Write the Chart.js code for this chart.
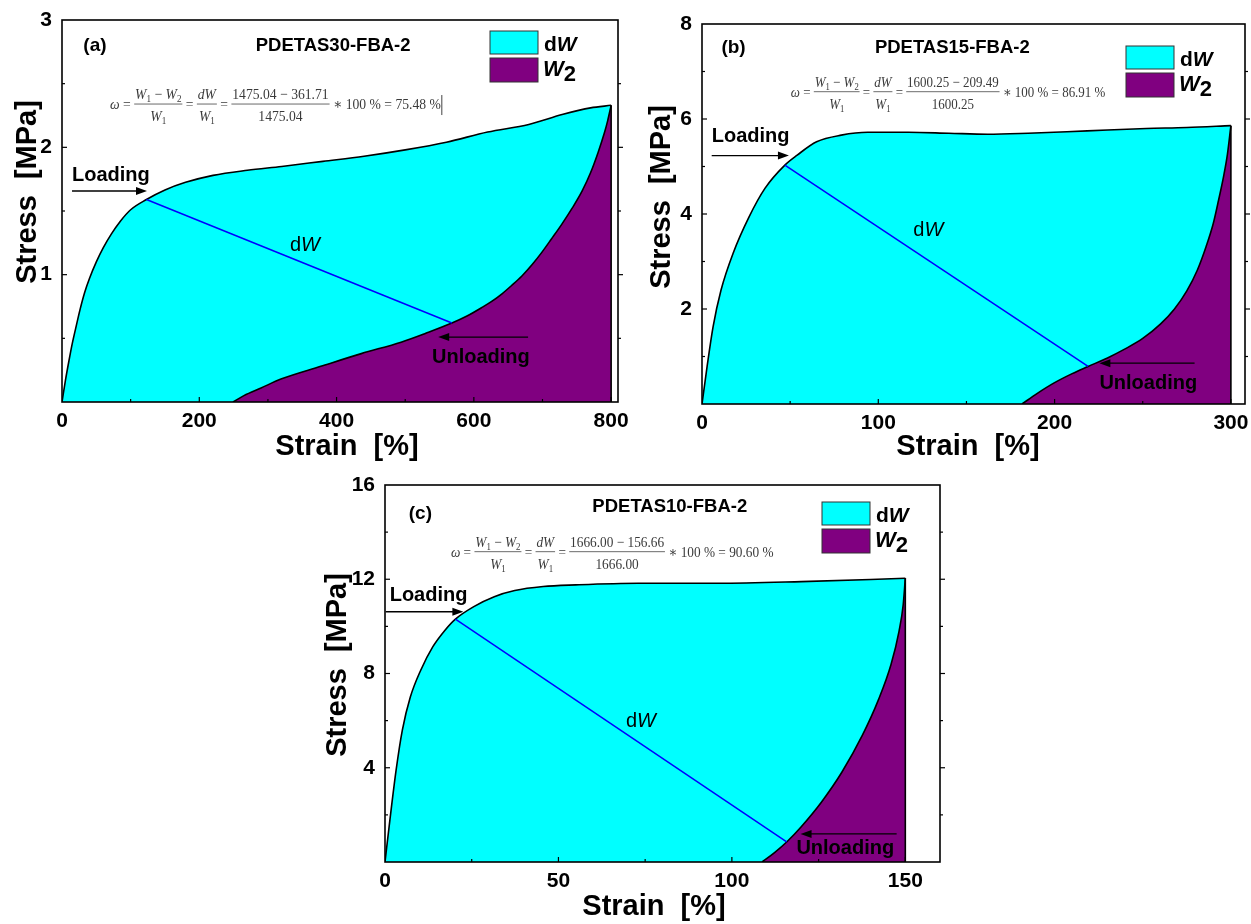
<!DOCTYPE html>
<html>
<head>
<meta charset="utf-8">
<script src="https://cdn.jsdelivr.net/npm/chart.js@4.4.0/dist/chart.umd.min.js"></script>
<style>
  body { margin: 0; background: #fff; width: 1251px; height: 924px; position: relative; overflow: hidden; }
  .panel { position: absolute; }
</style>
</head>
<body>
<div class="panel" style="left:0;top:0"><canvas id="chartA" width="640" height="465"></canvas></div>
<div class="panel" style="left:640px;top:0"><canvas id="chartB" width="611" height="465"></canvas></div>
<div class="panel" style="left:300px;top:465px"><canvas id="chartC" width="660" height="459"></canvas></div>
<script>
// ---- data ----
// (a) PDETAS30-FBA-2
const strainLoadA = [0, 5, 10, 15, 20, 26, 33, 40, 50, 60, 72, 85, 100, 123, 150, 180, 220, 270, 320, 380, 440, 500, 560, 620, 680, 730, 770, 800];
const stressLoadA = [0, 0.17, 0.32, 0.46, 0.58, 0.72, 0.86, 0.97, 1.10, 1.21, 1.32, 1.42, 1.51, 1.59, 1.665, 1.725, 1.78, 1.82, 1.85, 1.89, 1.93, 1.98, 2.04, 2.12, 2.18, 2.26, 2.31, 2.33];
const strainUnloadA = [800, 795, 790, 781, 770, 758, 743, 728, 713, 699, 685, 670, 655, 641, 626, 611, 590, 568, 530, 494, 436, 377, 319, 290, 265, 249];
const stressUnloadA = [2.33, 2.21, 2.11, 1.96, 1.80, 1.66, 1.52, 1.395, 1.28, 1.175, 1.08, 0.99, 0.915, 0.85, 0.79, 0.74, 0.675, 0.62, 0.54, 0.47, 0.38, 0.28, 0.18, 0.11, 0.05, 0];
const linkStrainA = [123, 568];
const linkStressA = [1.59, 0.62];
const xTicksA = [0, 200, 400, 600, 800];
const yTicksA = [1, 2, 3];

// (b) PDETAS15-FBA-2
const strainLoadB = [0, 2.9, 6.3, 10.8, 17.6, 26.7, 35.7, 47, 54, 65, 79, 94, 117, 140, 162, 185, 207, 230, 252, 275, 300];
const stressLoadB = [0, 0.79, 1.63, 2.40, 3.17, 3.94, 4.54, 5.03, 5.24, 5.52, 5.66, 5.72, 5.72, 5.70, 5.68, 5.70, 5.73, 5.77, 5.80, 5.82, 5.86];
const strainUnloadB = [300, 298, 296, 293, 290, 286, 281, 275, 268, 260, 250, 240, 230, 219, 210, 200, 190, 181.5];
const stressUnloadB = [5.86, 5.25, 4.82, 4.29, 3.80, 3.32, 2.82, 2.38, 2.00, 1.68, 1.38, 1.16, 0.97, 0.79, 0.64, 0.45, 0.22, 0];
const linkStrainB = [47, 219];
const linkStressB = [5.03, 0.79];
const xTicksB = [0, 100, 200, 300];
const yTicksB = [2, 4, 6, 8];

// (c) PDETAS10-FBA-2
const strainLoadC = [0, 1.4, 3.2, 5, 7.3, 10.3, 13.8, 17.3, 20.3, 25.6, 31.5, 37.4, 45.6, 55, 73, 96, 120, 150];
const stressLoadC = [0, 1.77, 3.9, 5.6, 7.0, 8.14, 9.14, 9.84, 10.31, 10.84, 11.26, 11.52, 11.69, 11.76, 11.83, 11.83, 11.9, 12.04];
const strainUnloadC = [150, 149.4, 148.2, 145.9, 142.3, 137.6, 131.7, 125.8, 120, 115.8, 112.3, 108.7];
const stressUnloadC = [12.04, 10.93, 9.80, 8.39, 6.90, 5.37, 3.81, 2.54, 1.50, 0.85, 0.40, 0];
const linkStrainC = [20.3, 115.8];
const linkStressC = [10.31, 0.85];
const xTicksC = [0, 50, 100, 150];
const yTicksC = [4, 8, 12, 16];

// energies for the damage formula
const sampleNames = ['PDETAS30-FBA-2', 'PDETAS15-FBA-2', 'PDETAS10-FBA-2'];
const energyW1 = [1475.04, 1600.25, 1666.00];
const energyW2 = [361.71, 209.49, 156.66];
const damagePct = [75.48, 86.91, 90.60];

// ---- drawing ----
const CYAN = '#00ffff', PURPLE = '#800080', BLUE = '#0000ff';
const SANS = '"Liberation Sans", Arial, sans-serif';
const SERIF = '"Liberation Serif", "DejaVu Serif", serif';

function pts(xs, ys) { return xs.map((x, i) => ({ x: x, y: ys[i] })); }

function line(ctx, x0, y0, x1, y1) {
  ctx.beginPath(); ctx.moveTo(x0, y0); ctx.lineTo(x1, y1); ctx.stroke();
}

// segments are [text, font, dy]
function runWidth(ctx, segs) {
  let w = 0;
  segs.forEach(s => { ctx.font = s[1]; w += ctx.measureText(s[0]).width; });
  return w;
}
function drawRun(ctx, segs, x, y) {
  segs.forEach(s => {
    ctx.font = s[1];
    ctx.fillText(s[0], x, y + (s[2] || 0));
    x += ctx.measureText(s[0]).width;
  });
  return x;
}

function drawFormula(ctx, x0, x1, cy, k, cursor) {
  const fs = 15;
  const up = fs + 'px ' + SERIF, it = 'italic ' + up, sb = '10px ' + SERIF;
  const w1 = energyW1[k].toFixed(2), w2 = energyW2[k].toFixed(2);
  const items = [
    { run: [['\u03c9', it], [' = ', up]] },
    { num: [['W', it], ['1', sb, 3], [' \u2212 ', up], ['W', it], ['2', sb, 3]], den: [['W', it], ['1', sb, 3]] },
    { run: [[' = ', up]] },
    { num: [['dW', it]], den: [['W', it], ['1', sb, 3]] },
    { run: [[' = ', up]] },
    { num: [[w1 + ' \u2212 ' + w2, up]], den: [[w1, up]] },
    { run: [[' \u2217 100 % = ' + damagePct[k].toFixed(2) + ' %', up]] }
  ];
  ctx.save();
  let total = 0;
  items.forEach(o => {
    o.w = o.run ? runWidth(ctx, o.run) : Math.max(runWidth(ctx, o.num), runWidth(ctx, o.den)) + 2;
    total += o.w;
  });
  ctx.translate(x0, cy);
  ctx.scale((x1 - x0) / total, 1);
  ctx.fillStyle = '#3a3a3a';
  ctx.strokeStyle = '#3a3a3a';
  ctx.lineWidth = 0.8;
  ctx.textBaseline = 'alphabetic';
  ctx.textAlign = 'left';
  let x = 0;
  items.forEach(o => {
    if (o.run) {
      drawRun(ctx, o.run, x, 5);
    } else {
      const nw = runWidth(ctx, o.num), dw = runWidth(ctx, o.den);
      drawRun(ctx, o.num, x + (o.w - nw) / 2, -5);
      drawRun(ctx, o.den, x + (o.w - dw) / 2, 17);
      line(ctx, x, 0, x + o.w, 0);
    }
    x += o.w;
  });
  if (cursor) { ctx.lineWidth = 1; line(ctx, total + 1, -9, total + 1, 11); }
  ctx.restore();
}

function arrow(ctx, x0, x1, y) {
  ctx.save();
  ctx.strokeStyle = '#000'; ctx.fillStyle = '#000'; ctx.lineWidth = 1.3;
  const dir = x1 > x0 ? 1 : -1;
  line(ctx, x0, y, x1 - dir * 8, y);
  ctx.beginPath();
  ctx.moveTo(x1, y); ctx.lineTo(x1 - dir * 11, y - 4); ctx.lineTo(x1 - dir * 11, y + 4);
  ctx.closePath(); ctx.fill();
  ctx.restore();
}

function makePanel(id, p) {
  const decor = {
    id: 'decor',
    afterDatasetsDraw(chart) {
      const ctx = chart.ctx, a = chart.chartArea;
      const X = v => chart.scales.x.getPixelForValue(v);
      const Y = v => chart.scales.y.getPixelForValue(v);
      ctx.save();
      // frame and ticks
      ctx.strokeStyle = '#000'; ctx.lineWidth = 1.6;
      ctx.strokeRect(a.left, a.top, a.right - a.left, a.bottom - a.top);
      ctx.lineWidth = 1.2;
      for (let v = p.xMinor; v < p.xMax; v += p.xMinor) {
        const len = Math.abs(v / p.xMajor - Math.round(v / p.xMajor)) < 1e-6 ? 5 : 3;
        line(ctx, X(v), a.bottom, X(v), a.bottom - len);
      }
      for (let v = p.yMinor; v < p.yMax; v += p.yMinor) {
        const len = Math.abs(v / p.yMajor - Math.round(v / p.yMajor)) < 1e-6 ? 5 : 3;
        line(ctx, a.left, Y(v), a.left + len, Y(v));
        line(ctx, a.right, Y(v), a.right + len, Y(v));
      }
      ctx.fillStyle = '#000';
      ctx.textBaseline = 'middle';
      // panel tag and sample name
      ctx.textAlign = 'center';
      ctx.font = 'bold 19px ' + SANS;
      ctx.fillText(p.tag, X(p.tagAt[0]), Y(p.tagAt[1]));
      ctx.font = 'bold 18.5px ' + SANS;
      ctx.fillText(sampleNames[p.k], X(p.titleAt[0]), Y(p.titleAt[1]));
      // dW along the link line
      ctx.textAlign = 'left';
      ctx.font = '20px ' + SANS; const wd = ctx.measureText('d').width;
      ctx.font = 'italic 20px ' + SANS; const ww = ctx.measureText('W').width;
      const dwx = X(p.dwAt[0]) - (wd + ww) / 2, dwy = Y(p.dwAt[1]);
      drawRun(ctx, [['d', '20px ' + SANS], ['W', 'italic 20px ' + SANS]], dwx, dwy);
      // loading / unloading
      ctx.font = 'bold 20px ' + SANS;
      ctx.fillText('Loading', X(p.loadText[0]), Y(p.loadText[1]));
      ctx.fillText('Unloading', X(p.unloadText[0]), Y(p.unloadText[1]));
      arrow(ctx, X(p.loadArrow[0]), X(p.loadArrow[1]), Y(p.loadArrow[2]));
      arrow(ctx, X(p.unloadArrow[0]), X(p.unloadArrow[1]), Y(p.unloadArrow[2]));
      // formula
      drawFormula(ctx, X(p.formula[0]), X(p.formula[1]), Y(p.formula[2]), p.k, p.cursor);
      // legend
      const bx = a.right - p.legend[0], by = a.top + p.legend[1];
      ctx.lineWidth = 1; ctx.strokeStyle = '#333';
      ctx.fillStyle = CYAN; ctx.fillRect(bx, by, 48, 23); ctx.strokeRect(bx, by, 48, 23);
      ctx.fillStyle = PURPLE; ctx.fillRect(bx, by + 27, 48, 24); ctx.strokeRect(bx, by + 27, 48, 24);
      ctx.fillStyle = '#000'; ctx.textBaseline = 'alphabetic'; ctx.textAlign = 'left';
      drawRun(ctx, [['d', 'bold 21px ' + SANS], ['W', 'italic bold 21px ' + SANS]], bx + 54, by + 20);
      drawRun(ctx, [['W', 'italic bold 22px ' + SANS], ['2', 'bold 22px ' + SANS, 5]], bx + 53, by + 45);
      // axis titles
      ctx.font = 'bold 29px ' + SANS;
      ctx.textAlign = 'center'; ctx.textBaseline = 'middle';
      ctx.fillText('Strain  [%]', p.xTitle[0], p.xTitle[1]);
      ctx.translate(p.yTitle[0], p.yTitle[1]);
      ctx.rotate(-Math.PI / 2);
      ctx.fillText('Stress  [MPa]', 0, 0);
      ctx.restore();
    }
  };
  const tickFont = { family: SANS, size: 21, weight: 'bold' };
  return new Chart(document.getElementById(id), {
    type: 'line',
    data: {
      datasets: [
        { label: 'dW', data: pts(p.loadX, p.loadY), borderColor: '#000', borderWidth: 1.6,
          backgroundColor: CYAN, fill: 'origin', pointRadius: 0, cubicInterpolationMode: 'monotone', order: 3 },
        { label: 'W2', data: pts(p.unX, p.unY), borderColor: '#000', borderWidth: 1.6,
          backgroundColor: PURPLE, fill: 'origin', pointRadius: 0, cubicInterpolationMode: 'monotone', order: 2 },
        { label: 'end', data: [{ x: p.unX[0], y: 0 }, { x: p.unX[0], y: p.unY[0] }], borderColor: '#000',
          borderWidth: 1.6, pointRadius: 0, fill: false, order: 1 },
        { label: 'link', data: pts(p.linkX, p.linkY), borderColor: BLUE, borderWidth: 1.5,
          pointRadius: 0, fill: false, order: 0 }
      ]
    },
    options: {
      responsive: false,
      animation: false,
      layout: { padding: p.pad },
      plugins: { legend: { display: false }, tooltip: { enabled: false } },
      scales: {
        x: {
          type: 'linear', min: 0, max: p.xMax,
          grid: { display: false, drawTicks: false }, border: { display: false },
          afterBuildTicks: s => { s.ticks = p.xTicks.map(v => ({ value: v })); },
          afterFit: s => { s.height = p.xH; s.paddingLeft = 0; s.paddingRight = 0; },
          ticks: { padding: 7, color: '#000', font: tickFont, maxRotation: 0, autoSkip: false }
        },
        y: {
          type: 'linear', min: 0, max: p.yMax,
          grid: { display: false, drawTicks: false }, border: { display: false },
          afterBuildTicks: s => { s.ticks = p.yTicks.map(v => ({ value: v })); },
          afterFit: s => { s.width = p.yW; s.paddingTop = 0; s.paddingBottom = 0; },
          ticks: { padding: 10, color: '#000', font: tickFont, autoSkip: false }
        }
      }
    },
    plugins: [decor]
  });
}

makePanel('chartA', {
  k: 0, tag: '(a)', cursor: true,
  loadX: strainLoadA, loadY: stressLoadA, unX: strainUnloadA, unY: stressUnloadA,
  linkX: linkStrainA, linkY: linkStressA, xTicks: xTicksA, yTicks: yTicksA,
  xMax: 810, yMax: 3, xMajor: 200, xMinor: 100, yMajor: 1, yMinor: 0.5,
  pad: { left: 0, top: 20, right: 22, bottom: 0 }, yW: 62, xH: 63,
  tagAt: [48, 2.80], titleAt: [395, 2.80], dwAt: [354, 1.233],
  loadText: [14.6, 1.78], loadArrow: [14.6, 123.8, 1.657],
  unloadText: [539, 0.353], unloadArrow: [679, 548, 0.51],
  formula: [70, 552, 2.34], legend: [128, 11],
  xTitle: [347, 447], yTitle: [28, 192]
});

makePanel('chartB', {
  k: 1, tag: '(b)', cursor: false,
  loadX: strainLoadB, loadY: stressLoadB, unX: strainUnloadB, unY: stressUnloadB,
  linkX: linkStrainB, linkY: linkStressB, xTicks: xTicksB, yTicks: yTicksB,
  xMax: 308, yMax: 8, xMajor: 100, xMinor: 50, yMajor: 2, yMinor: 1,
  pad: { left: 0, top: 24, right: 6, bottom: 0 }, yW: 62, xH: 61,
  tagAt: [17.9, 7.49], titleAt: [142, 7.49], dwAt: [128.4, 3.66],
  loadText: [5.5, 5.64], loadArrow: [5.5, 49.3, 5.23],
  unloadText: [225.4, 0.44], unloadArrow: [279.4, 225.4, 0.86],
  formula: [50.4, 228.8, 6.575], legend: [119, 22],
  xTitle: [328, 447], yTitle: [22, 197]
});

makePanel('chartC', {
  k: 2, tag: '(c)', cursor: false,
  loadX: strainLoadC, loadY: stressLoadC, unX: strainUnloadC, unY: stressUnloadC,
  linkX: linkStrainC, linkY: linkStressC, xTicks: xTicksC, yTicks: yTicksC,
  xMax: 160, yMax: 16, xMajor: 50, xMinor: 25, yMajor: 4, yMinor: 2,
  pad: { left: 0, top: 20, right: 20, bottom: 0 }, yW: 85, xH: 62,
  tagAt: [10.2, 14.8], titleAt: [82.1, 15.08], dwAt: [73.8, 5.96],
  loadText: [1.35, 11.29], loadArrow: [0.2, 22.6, 10.62],
  unloadText: [118.6, 0.58], unloadArrow: [147.5, 119.8, 1.19],
  formula: [19, 112, 13.17], legend: [118, 17],
  xTitle: [354, 442], yTitle: [38, 200]
});
</script>
</body>
</html>
